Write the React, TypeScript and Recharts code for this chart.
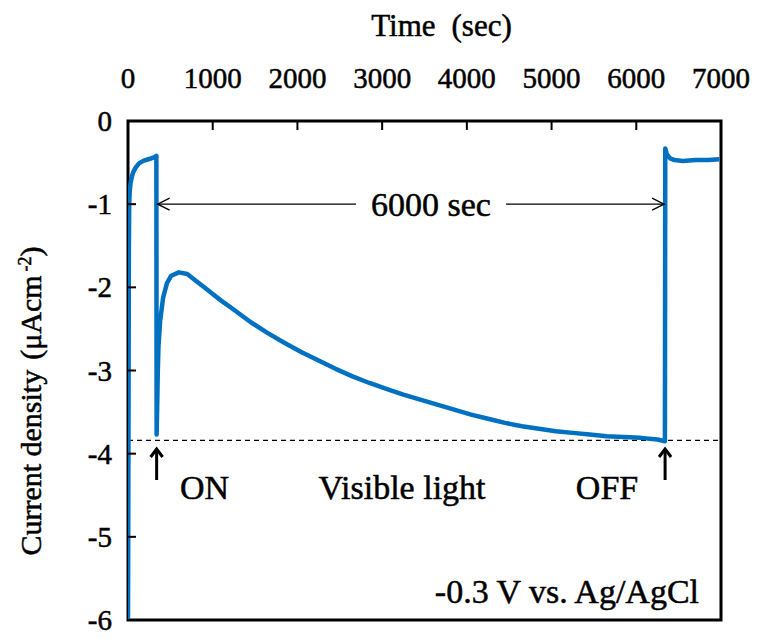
import React from "react";
import {
  LineChart,
  Line,
  XAxis,
  YAxis,
  ReferenceArea,
  ReferenceLine,
  ReferenceDot,
} from "recharts";

// photocurrent transient, light ON at ~338 s, OFF at ~6340 s
const timeSec = [
  0, 5, 10, 14, 20, 30, 45, 60, 90, 130, 180, 240, 300, 335,
  338, 345, 352, 360, 380, 415, 460, 510, 600, 700, 800, 900, 1000, 1100, 1250,
  1450, 1650, 1850, 2050, 2250, 2450, 2650, 2850, 3050, 3250, 3450, 3650, 3850,
  4050, 4250, 4450, 4650, 4850, 5050, 5250, 5450, 5650, 5850, 6050, 6250, 6338,
  6342, 6360, 6400, 6450, 6550, 6700, 6850, 6980,
];
const currentDensity = [
  -6, -4, -1.6, -1.0, -0.85, -0.75, -0.67, -0.62, -0.56, -0.51, -0.48, -0.46, -0.44, -0.42,
  -3.77, -3.4, -3.0, -2.7, -2.4, -2.12, -1.95, -1.86, -1.82, -1.84, -1.92, -2.0, -2.08, -2.16, -2.27,
  -2.42, -2.55, -2.67, -2.78, -2.88, -2.98, -3.07, -3.15, -3.22, -3.29, -3.35, -3.41, -3.47,
  -3.53, -3.58, -3.63, -3.67, -3.7, -3.73, -3.75, -3.77, -3.79, -3.8, -3.81, -3.83, -3.85,
  -0.33, -0.4, -0.45, -0.47, -0.48, -0.47, -0.47, -0.46,
];

const xTicks = [0, 1000, 2000, 3000, 4000, 5000, 6000, 7000];
const yTicks = [-6, -5, -4, -3, -2, -1, 0];

const lightOn = 338;
const lightOff = 6340;
const baseline = -3.84;

const data = timeSec.map((t, i) => ({ t, j: currentDensity[i] }));

const FONT = "'Liberation Serif', 'Times New Roman', serif";
const BLUE = "#0070C0";
// a thin outline makes Times look closer to the heavier Century face of the original
const ink = { fill: "#000", stroke: "#000", strokeWidth: 0.5 };

function TopTick({ x, y, payload }: any) {
  return (
    <g>
      <line x1={x} y1={y} x2={x} y2={y + 9} stroke="#000" strokeWidth={2} />
      <text x={x} y={y - 33} textAnchor="middle" fontFamily={FONT} fontSize={29} {...ink}>
        {payload.value}
      </text>
    </g>
  );
}

function LeftTick({ x, y, payload }: any) {
  return (
    <g>
      <line x1={x} y1={y} x2={x + 8} y2={y} stroke="#000" strokeWidth={2} />
      <text x={x - 16} y={y} dy="0.35em" textAnchor="end" fontFamily={FONT} fontSize={29} {...ink}>
        {payload.value}
      </text>
    </g>
  );
}

function TitleLabel({ viewBox }: any) {
  const cx = viewBox.x + viewBox.width / 2 + 17;
  return (
    <text x={cx} y={36} textAnchor="middle" fontFamily={FONT} fontSize={31} {...ink}>
      Time<tspan dx={16}>(sec)</tspan>
    </text>
  );
}

function YTitle() {
  return (
    <text
      x={30}
      y={401}
      transform="rotate(-90 30 401)"
      dy="0.35em"
      textAnchor="middle"
      fontFamily={FONT}
      fontSize={30}
      {...ink}
    >
      Current density<tspan dx={10}>(μAcm</tspan>
      <tspan dx={4} dy={-10} fontSize={18}>-2</tspan>
      <tspan dy={10}>)</tspan>
    </text>
  );
}

const upArrow = ({ cx, cy }: any) => (
  <g stroke="#000" strokeWidth={3} fill="none">
    <line x1={cx} y1={cy + 2} x2={cx} y2={cy + 33} />
    <polyline points={`${cx - 6},${cy + 10} ${cx},${cy + 2} ${cx + 6},${cy + 10}`} />
  </g>
);

const leftHead = ({ cx, cy }: any) => (
  <polyline points={`${cx + 13},${cy - 6} ${cx + 1},${cy} ${cx + 13},${cy + 6}`} stroke="#000" strokeWidth={1.3} fill="none" />
);

const rightHead = ({ cx, cy }: any) => (
  <polyline points={`${cx - 13},${cy - 6} ${cx - 1},${cy} ${cx - 13},${cy + 6}`} stroke="#000" strokeWidth={1.3} fill="none" />
);

const textShape = (value: string, anchor: "start" | "middle" | "end") => ({ cx, cy }: any) => (
  <text x={cx} y={cy} textAnchor={anchor} fontFamily={FONT} fontSize={34} {...ink}>
    {value}
  </text>
);

const spanLabel = ({ cx, cy }: any) => (
  <g>
    <rect x={cx - 75} y={cy - 16} width={150} height={32} fill="#fff" />
    <text x={cx} y={cy} dy="0.35em" textAnchor="middle" fontFamily={FONT} fontSize={34} {...ink}>
      6000 sec
    </text>
  </g>
);

export default function App() {
  return (
    <div style={{ position: "absolute", left: 0, top: 0, background: "#fff" }}>
      <LineChart width={759} height={637} data={data} margin={{ top: 0, right: 38, bottom: 17, left: 0 }}>
        <XAxis
          dataKey="t"
          type="number"
          orientation="top"
          domain={[0, 7000]}
          ticks={xTicks}
          height={121}
          tickSize={0}
          tickMargin={0}
          tickLine={false}
          axisLine={false}
          tick={<TopTick />}
          interval={0}
          allowDataOverflow
          label={<TitleLabel />}
        />
        <YAxis
          type="number"
          domain={[-6, 0]}
          ticks={yTicks}
          width={128}
          tickSize={0}
          tickMargin={0}
          tickLine={false}
          axisLine={false}
          tick={<LeftTick />}
          interval={0}
          allowDataOverflow
          label={<YTitle />}
        />
        <ReferenceLine y={baseline} stroke="#000" strokeWidth={1.2} strokeDasharray="5 4" />
        <Line
          type="linear"
          dataKey="j"
          stroke={BLUE}
          strokeWidth={4.5}
          dot={false}
          isAnimationActive={false}
          strokeLinejoin="round"
        />
        <ReferenceLine
          segment={[
            { x: lightOn, y: -1 },
            { x: lightOff, y: -1 },
          ]}
          stroke="#000"
          strokeWidth={1.3}
        />
        <ReferenceDot x={lightOn} y={-1} shape={leftHead} />
        <ReferenceDot x={lightOff} y={-1} shape={rightHead} />
        <ReferenceDot x={3577} y={-1} shape={spanLabel} />
        <ReferenceDot x={lightOn} y={-3.92} shape={upArrow} />
        <ReferenceDot x={lightOff} y={-3.92} shape={upArrow} />
        <ReferenceDot x={614} y={-4.55} shape={textShape("ON", "start")} />
        <ReferenceDot x={3235} y={-4.55} shape={textShape("Visible light", "middle")} />
        <ReferenceDot x={5655} y={-4.55} shape={textShape("OFF", "middle")} />
        <ReferenceDot x={6741} y={-5.79} shape={textShape("-0.3 V vs. Ag/AgCl", "end")} />
        <ReferenceArea x1={0} x2={7000} y1={-6} y2={0} fill="none" stroke="#000" strokeWidth={3} />
      </LineChart>
    </div>
  );
}
